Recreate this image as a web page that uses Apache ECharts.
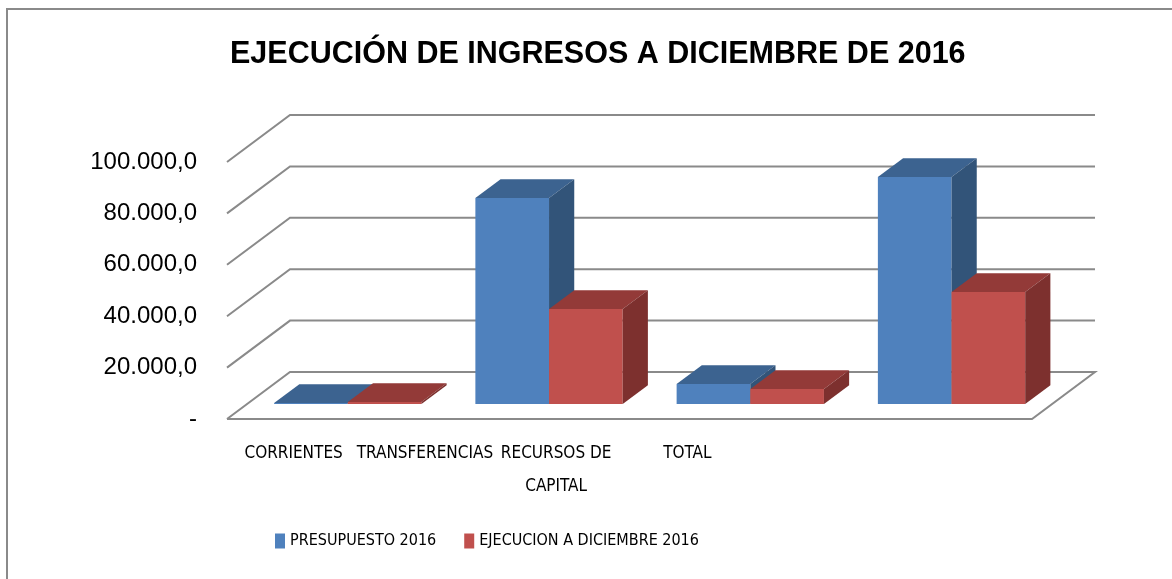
<!DOCTYPE html>
<html>
<head>
<meta charset="utf-8">
<script src="https://cdn.jsdelivr.net/npm/echarts@6/dist/echarts.min.js"></script>
<style>html,body{margin:0;padding:0;background:#fff;}#c{width:1172px;height:579px;}</style>
</head>
<body>
<div id="c"></div>
<script>
const categories = ['CORRIENTES', 'TRANSFERENCIAS', 'RECURSOS DE\nCAPITAL', 'TOTAL'];
const seriesNames = ['PRESUPUESTO 2016', 'EJECUCION A DICIEMBRE 2016'];
const presupuesto = [390, 80150, 7780, 88320];
const ejecucion = [780, 36970, 5830, 43580];
const yTicks = [0, 20000, 40000, 60000, 80000, 100000];

// 3D projection constants (pixels / fractions)
const DX = 63, DY = -47;       // full floor depth offset
const F0 = 0.32;               // depth of bar front face
const DEPTH = 0.40;            // bar depth
const BAR_FRAC = 0.366;        // bar width as fraction of category band

const faceColors = [
  {front: '#4F81BD', top: '#3C6390', side: '#325479'},
  {front: '#C0504D', top: '#933A38', side: '#7D302E'}
];

const NARROW = 'Liberation Sans Narrow, DejaVu Sans Condensed, sans-serif';

function fmt(v) {
  if (v === 0) return '-';
  return String(v).replace(/\B(?=(\d{3})+(?!\d))/g, '.') + ',0';
}

function barRender(k) {
  return function (params, api) {
    const i = api.value(0), v = api.value(1);
    const base = api.coord([i, 0]);
    const top = api.coord([i, v]);
    const band = api.size([1, 0])[0];
    const bw = band * BAR_FRAC;
    const xL = base[0] - bw + k * bw + DX * F0;
    const xR = xL + bw;
    const yB = base[1] + DY * F0;
    const yT = top[1] + DY * F0;
    const ddx = DX * DEPTH, ddy = DY * DEPTH;
    const c = faceColors[k];
    return {
      type: 'group',
      children: [
        {type: 'polygon', shape: {points: [[xL, yB], [xR, yB], [xR, yT], [xL, yT]]}, style: {fill: c.front}},
        {type: 'polygon', shape: {points: [[xL, yT], [xR, yT], [xR + ddx, yT + ddy], [xL + ddx, yT + ddy]]}, style: {fill: c.top}},
        {type: 'polygon', shape: {points: [[xR, yB], [xR + ddx, yB + ddy], [xR + ddx, yT + ddy], [xR, yT]]}, style: {fill: c.side}}
      ]
    };
  };
}

function gridRender(params, api) {
  const v = api.value(1);
  const y = api.coord([0, v])[1];
  const x0 = params.coordSys.x, w = params.coordSys.width;
  const style = {stroke: '#8a8a8a', lineWidth: 2, fill: null};
  let pts;
  if (v === 0) {
    pts = [[x0, y], [x0 + DX, y + DY], [x0 + w + DX, y + DY], [x0 + w, y], [x0, y]];
  } else {
    pts = [[x0, y], [x0 + DX, y + DY], [x0 + w + DX, y + DY]];
  }
  return {type: 'polyline', shape: {points: pts}, style: style};
}

const chart = echarts.init(document.getElementById('c'));
chart.setOption({
  animation: false,
  backgroundColor: '#fff',
  title: {
    text: 'EJECUCIÓN DE INGRESOS A DICIEMBRE DE 2016',
    left: 225, top: 34,
    textStyle: {fontFamily: 'Liberation Sans', fontWeight: 'bold', fontSize: 30.5, color: '#000'}
  },
  graphic: [{
    type: 'rect', shape: {x: 7, y: 9, width: 1200, height: 620},
    style: {fill: null, stroke: '#8a8a8a', lineWidth: 2}, z: 100, silent: true
  }],
  legend: {
    data: seriesNames,
    left: 270, top: 528,
    icon: 'rect', itemWidth: 10, itemHeight: 15, itemGap: 28,
    textStyle: {fontFamily: NARROW, fontSize: 16, color: '#000'}
  },
  grid: [
    {left: 227, right: 140, top: 162, bottom: 160},
    {left: 228, width: 525, top: 162, bottom: 160}
  ],
  xAxis: [
    {type: 'category', data: categories, gridIndex: 0, axisLine: {show: false}, axisTick: {show: false}, axisLabel: {show: false}},
    {type: 'category', data: categories, gridIndex: 1, axisLine: {show: false}, axisTick: {show: false},
     axisLabel: {margin: 18, interval: 0, lineHeight: 33, fontFamily: NARROW, fontSize: 17, color: '#000'}}
  ],
  yAxis: [
    {type: 'value', min: 0, max: 100000, interval: 20000, gridIndex: 0,
     axisLine: {show: false}, axisTick: {show: false}, splitLine: {show: false},
     axisLabel: {margin: 30, formatter: fmt, fontFamily: 'Liberation Sans', fontSize: 24, color: '#000'}},
    {type: 'value', min: 0, max: 100000, gridIndex: 1, show: false}
  ],
  series: [
    {type: 'custom', name: 'grid', renderItem: gridRender, xAxisIndex: 0, yAxisIndex: 0,
     data: yTicks.map(v => [0, v]), clip: false, silent: true, z: 1},
    {type: 'custom', name: seriesNames[0], renderItem: barRender(0), xAxisIndex: 0, yAxisIndex: 0,
     itemStyle: {color: faceColors[0].front}, data: presupuesto.map((v, i) => [i, v]), clip: false, z: 2},
    {type: 'custom', name: seriesNames[1], renderItem: barRender(1), xAxisIndex: 0, yAxisIndex: 0,
     itemStyle: {color: faceColors[1].front}, data: ejecucion.map((v, i) => [i, v]), clip: false, z: 2}
  ]
});
</script>
</body>
</html>
